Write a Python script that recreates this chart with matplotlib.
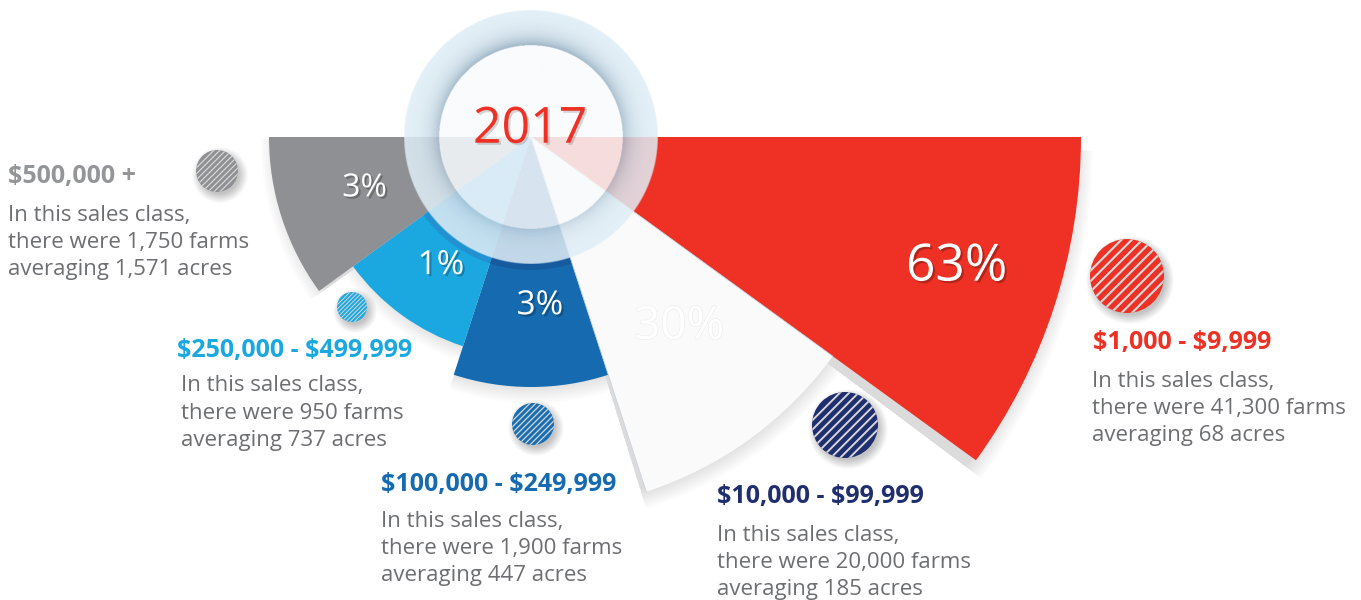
import numpy as np
import matplotlib
matplotlib.use("Agg")
import matplotlib.pyplot as plt
from matplotlib.patches import Wedge, Circle
from matplotlib.lines import Line2D
import matplotlib.patheffects as pe
from matplotlib.colors import to_rgb

# ---------------- data ----------------
year = "2017"
categories = ["$1,000 - $9,999", "$10,000 - $99,999", "$100,000 - $249,999",
              "$250,000 - $499,999", "$500,000 +"]
shares = [63, 30, 3, 1, 3]
farms = ["41,300", "20,000", "1,900", "950", "1,750"]
avg_acres = ["68", "185", "447", "737", "1,571"]
wedge_radius = [550, 373, 250, 220, 262]

# ---------------- styles ----------------
wedge_colors = ["#ee3124", "#fafafa", "#166bb0", "#1ba8e0", "#8f9094"]
inner_colors = [None, None, "#155b9e", "#2191d1", None]
header_colors = ["#ee3124", "#1f2e6e", "#166bb0", "#1ba8e0", "#939598"]
dot_colors = ["#ee3124", "#1f2e6e", "#1a6fb3", "#1ba8e0", "#8f9094"]
body_color = "#6d6e71"

plt.rcParams["font.family"] = ["Open Sans", "DejaVu Sans"]

fig = plt.figure(figsize=(13.61, 6.0), dpi=100)
ax = fig.add_axes([0, 0, 1, 1])
ax.set_xlim(0, 1361)
ax.set_ylim(600, 0)
ax.axis("off")

cx, cy = 531, 137
n = len(shares)
span = 180.0 / n

# soft wedge shadows
for i in range(n):
    t1, t2 = i * span, (i + 1) * span
    r = wedge_radius[i]
    for k in range(18):
        ax.add_patch(Wedge((cx + 2, cy + 6), r - 10 + k * 1.2, t1 + 0.8, t2 + 0.8,
                           facecolor="k", edgecolor="none", alpha=0.009, zorder=1))

# wedges
for i in range(n):
    t1, t2 = i * span, (i + 1) * span
    ax.add_patch(Wedge((cx, cy), wedge_radius[i], t1, t2,
                       facecolor=wedge_colors[i], edgecolor="none", zorder=2))
    if inner_colors[i]:
        ax.add_patch(Wedge((cx, cy), 133, t1, t2,
                           facecolor=inner_colors[i], edgecolor="none", zorder=2.1))

# thin edge lines of the white wedge
for t in (span, 2 * span):
    ax.plot([cx, cx + wedge_radius[1] * np.cos(np.radians(t))],
            [cy, cy + wedge_radius[1] * np.sin(np.radians(t))],
            color="#c9d3df", lw=0.6, zorder=2.2)

# halo (ring + inner disc) as an image
r_in, r_out = 92, 127
res = 520
xs = np.linspace(cx - r_out, cx + r_out, res)
ys = np.linspace(cy - r_out, cy + r_out, res)
X, Y = np.meshgrid(xs, ys)
R = np.hypot(X - cx, Y - cy)
up = np.clip((cy - Y) / np.maximum(R, 1e-6), -1, 1)
c_out = np.array(to_rgb("#e2f0f8"))
c_dark = np.array(to_rgb("#8ea8bc"))
c_disc = np.array(to_rgb("#f8fbfd"))
d = np.clip((R - r_in) / (r_out - r_in), 0, 1)
dark = np.exp(-d / 0.28) * (0.4 + 0.6 * (up + 1) / 2)
img = np.zeros((res, res, 4))
ring_rgb = c_out[None, None, :] * (1 - dark[..., None]) + c_dark[None, None, :] * dark[..., None]
img[..., :3] = np.where((R < r_in)[..., None], c_disc[None, None, :], ring_rgb)
a_outer = np.clip(r_out - R + 0.5, 0, 1)
img[..., 3] = 0.86 * a_outer
ax.imshow(img, extent=(cx - r_out, cx + r_out, cy + r_out, cy - r_out),
          origin="upper", interpolation="bilinear", zorder=3)
ax.set_xlim(0, 1361)
ax.set_ylim(600, 0)

ax.text(cx - 1, cy - 7, year, fontsize=36, color="#ee3124", ha="center", va="center",
        zorder=6, path_effects=[pe.withSimplePatchShadow(offset=(1.5, -1.5), shadow_rgbFace="k", alpha=0.15)])

# percentage labels
label_angle = [17, 52, 87, 125, 163]
label_r = [445, 241, 169, 157, 174]
pct_sizes = [37, 33, 24, 24, 23]
for i in range(n):
    a = np.radians(label_angle[i])
    x = cx + label_r[i] * np.cos(a)
    y = cy + label_r[i] * np.sin(a)
    if i == 1:
        eff = [pe.withStroke(linewidth=0.8, foreground="#ececec")]
    else:
        eff = [pe.withSimplePatchShadow(offset=(1.5, -1.5), shadow_rgbFace="k", alpha=0.25)]
    ax.text(x, y, f"{shares[i]}%", fontsize=pct_sizes[i], color="white",
            ha="center", va="center", zorder=6, path_effects=eff)

# hatched dots
dot_xy = [(1127, 276, 37), (845, 425, 33), (533, 424, 21), (352, 307, 15), (217, 171, 21)]
s2 = np.sqrt(2)
for i, (x, y, r) in enumerate(dot_xy):
    for k in range(12):
        ax.add_patch(Circle((x + 3, y + 4), r - 2 + k * 0.8, facecolor="k",
                            edgecolor="none", alpha=0.018, zorder=4))
    c = Circle((x, y), r, facecolor=dot_colors[i], edgecolor="none", zorder=4.5)
    ax.add_patch(c)
    nstr = 9
    for off in np.linspace(-r, r, nstr + 2)[1:-1]:
        px, py = x + off / s2, y + off / s2
        L = 2 * r
        ln = Line2D([px - L / s2, px + L / s2], [py + L / s2, py - L / s2],
                    color="#d8d8d8", lw=max(0.7, r / 24), zorder=4.6,
                    solid_capstyle="butt")
        ln.set_clip_path(c)
        ax.add_line(ln)

# text blocks
header_xy = [(1093, 343), (717, 497), (381, 485), (177, 350), (8, 177)]
body_xy = [(1092, 381), (717, 535), (381, 521), (181, 386), (8, 215)]
line_gap = 27.2
for i in range(n):
    hx, hy = header_xy[i]
    ax.text(hx, hy, categories[i], fontsize=18, fontweight="bold",
            color=header_colors[i], ha="left", va="center", zorder=6,
            parse_math=False)
    lines = ["In this sales class,",
             f"there were {farms[i]} farms",
             f"averaging {avg_acres[i]} acres"]
    bx, by = body_xy[i]
    for j, t in enumerate(lines):
        ax.text(bx, by + j * line_gap, t, fontsize=16, color=body_color,
                ha="left", va="center", zorder=6, parse_math=False)

fig.savefig("out.png", dpi=100)
